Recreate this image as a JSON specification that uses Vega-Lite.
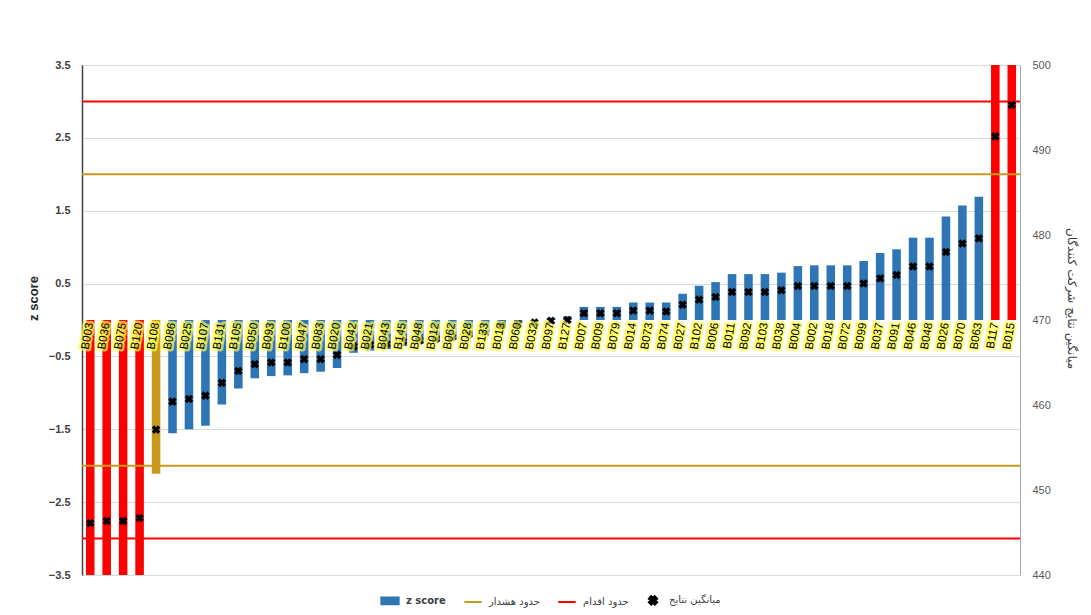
{
  "$schema": "https://vega.github.io/schema/vega-lite/v6.json",
  "width": 938,
  "height": 510,
  "autosize": {"type": "none"},
  "padding": {"left": 82, "top": 65, "right": 71, "bottom": 40},
  "background": "white",
  "config": {
    "view": {"stroke": "#A6A6A6", "strokeWidth": 1},
    "font": "Liberation Sans"
  },
  "data": {
    "values": [
      {"id": "B003", "z": -3.97, "mean": 446.1},
      {"id": "B036", "z": -3.93, "mean": 446.35},
      {"id": "B075", "z": -3.93, "mean": 446.35},
      {"id": "B120", "z": -3.87, "mean": 446.7},
      {"id": "B108", "z": -2.11, "mean": 457.1},
      {"id": "B086", "z": -1.555, "mean": 460.4},
      {"id": "B025", "z": -1.5, "mean": 460.7},
      {"id": "B107", "z": -1.45, "mean": 461.1},
      {"id": "B131", "z": -1.16, "mean": 462.6},
      {"id": "B105", "z": -0.94, "mean": 464.0},
      {"id": "B050", "z": -0.8, "mean": 464.8},
      {"id": "B093", "z": -0.77, "mean": 465.0},
      {"id": "B100", "z": -0.76, "mean": 465.0},
      {"id": "B047", "z": -0.73, "mean": 465.4},
      {"id": "B083", "z": -0.71, "mean": 465.4},
      {"id": "B020", "z": -0.66, "mean": 465.9},
      {"id": "B042", "z": -0.45, "mean": 466.9},
      {"id": "B021", "z": -0.42, "mean": 467.1},
      {"id": "B043", "z": -0.4, "mean": 467.2},
      {"id": "B145", "z": -0.36, "mean": 467.5},
      {"id": "B048", "z": -0.33, "mean": 467.6},
      {"id": "B012", "z": -0.3, "mean": 467.8},
      {"id": "B062", "z": -0.27, "mean": 468.0},
      {"id": "B028", "z": -0.22, "mean": 468.3},
      {"id": "B133", "z": -0.18, "mean": 468.5},
      {"id": "B013", "z": -0.1, "mean": 469.3},
      {"id": "B060", "z": -0.05, "mean": 469.5},
      {"id": "B032", "z": 0.0, "mean": 469.7},
      {"id": "B097", "z": 0.03, "mean": 469.9},
      {"id": "B127", "z": 0.05, "mean": 470.0},
      {"id": "B007", "z": 0.18, "mean": 470.8},
      {"id": "B009", "z": 0.18, "mean": 470.8},
      {"id": "B079", "z": 0.18, "mean": 470.8},
      {"id": "B014", "z": 0.24, "mean": 471.1},
      {"id": "B073", "z": 0.24, "mean": 471.1},
      {"id": "B074", "z": 0.24, "mean": 471.0},
      {"id": "B027", "z": 0.36, "mean": 471.8},
      {"id": "B102", "z": 0.47, "mean": 472.4},
      {"id": "B006", "z": 0.52, "mean": 472.7},
      {"id": "B011", "z": 0.63, "mean": 473.3},
      {"id": "B092", "z": 0.63, "mean": 473.3},
      {"id": "B103", "z": 0.63, "mean": 473.3},
      {"id": "B038", "z": 0.65, "mean": 473.5},
      {"id": "B004", "z": 0.74, "mean": 474.0},
      {"id": "B002", "z": 0.75, "mean": 474.0},
      {"id": "B018", "z": 0.75, "mean": 474.0},
      {"id": "B072", "z": 0.75, "mean": 474.0},
      {"id": "B099", "z": 0.81, "mean": 474.3},
      {"id": "B037", "z": 0.92, "mean": 474.9},
      {"id": "B091", "z": 0.97, "mean": 475.3},
      {"id": "B046", "z": 1.13, "mean": 476.3},
      {"id": "B048 ", "z": 1.13, "mean": 476.3},
      {"id": "B026", "z": 1.42, "mean": 478.0},
      {"id": "B070", "z": 1.57, "mean": 479.0},
      {"id": "B063", "z": 1.69, "mean": 479.6},
      {"id": "B117", "z": 3.7, "mean": 491.6},
      {"id": "B015", "z": 4.33, "mean": 495.3}
    ]
  },
  "layer": [
    {
      "layer": [
        {
          "mark": {"type": "bar", "clip": true},
          "encoding": {
            "x": {"field": "id", "type": "nominal", "sort": null, "axis": null,
                  "scale": {"paddingInner": 0.48, "paddingOuter": 0.24}},
            "y": {"field": "z", "type": "quantitative", "title": "z score",
                  "scale": {"domain": [-3.5, 3.5], "nice": false, "zero": false},
                  "axis": {"values": [-3.5, -2.5, -1.5, -0.5, 0.5, 1.5, 2.5, 3.5], "format": ".1f",
                           "grid": true, "gridColor": "#D9D9D9", "ticks": false,
                           "domainColor": "#404040", "domainWidth": 1.5,
                           "labelFontWeight": "bold", "labelFontSize": 11, "labelColor": "#404040", "labelPadding": 12,
                           "titleFontSize": 13, "titleFontWeight": "bold", "titleColor": "#262626", "titlePadding": 8,
                           "titleY": 233}},
            "y2": {"datum": 0},
            "color": {
              "datum": "z score",
              "scale": {"domain": ["z score", "حدود هشدار", "حدود اقدام", "میانگین نتایج"],
                        "range": ["#2E75B6", "#C99A1A", "#FF0000", "#000000"]},
              "condition": [
                {"test": "abs(datum.z) >= 3", "value": "#FF0000"},
                {"test": "abs(datum.z) >= 2", "value": "#C99A1A"}
              ],
              "legend": {
                "orient": "none", "legendX": 298, "legendY": 525, "direction": "horizontal", "title": null,
                "symbolSize": 300, "columnPadding": 14, "labelFontSize": 10, "labelColor": "#404040",
                "labelFont": "DejaVu Sans", "labelOffset": 6,
                "encode": {
                  "symbols": {"update": {
                    "shape": {"signal": "datum.value === 'z score' ? 'M-1,-0.38H1V0.38H-1Z' : (datum.value === 'میانگین نتایج' ? 'cross' : 'stroke')"},
                    "angle": {"signal": "datum.value === 'میانگین نتایج' ? 45 : 0"},
                    "size": {"signal": "datum.value === 'میانگین نتایج' ? 70 : 300"},
                    "fill": {"signal": "datum.value === 'z score' ? '#2E75B6' : (datum.value === 'میانگین نتایج' ? '#000000' : 'transparent')"},
                    "stroke": {"signal": "datum.value === 'حدود هشدار' ? '#C99A1A' : (datum.value === 'حدود اقدام' ? '#FF0000' : 'transparent')"},
                    "strokeWidth": {"value": 2},
                    "opacity": {"value": 1}
                  }},
                  "labels": {"update": {
                    "fontWeight": {"signal": "datum.value === 'z score' ? 'bold' : 'normal'"}
                  }}
                }
              }
            }
          }
        },
        {
          "data": {"values": [
            {"limit": 3, "series": "حدود اقدام"},
            {"limit": -3, "series": "حدود اقدام"},
            {"limit": 2, "series": "حدود هشدار"},
            {"limit": -2, "series": "حدود هشدار"}
          ]},
          "mark": {"type": "rule", "strokeWidth": 2},
          "encoding": {
            "y": {"field": "limit", "type": "quantitative"},
            "color": {"field": "series", "type": "nominal", "title": null}
          }
        }
      ]
    },
    {
      "mark": {"type": "point", "shape": "cross", "angle": 45, "filled": true, "size": 75, "opacity": 1},
      "encoding": {
        "x": {"field": "id", "type": "nominal", "sort": null},
        "y": {"field": "mean", "type": "quantitative", "title": "میانگین نتایج شرکت کنندگان",
              "scale": {"domain": [440, 500], "nice": false, "zero": false},
              "axis": {"orient": "right", "values": [440, 450, 460, 470, 480, 490, 500], "grid": false,
                       "ticks": false, "domain": false, "labelFontSize": 11, "labelColor": "#595959",
                       "labelPadding": 12, "titleFont": "DejaVu Sans", "titleFontSize": 12,
                       "titleFontWeight": "normal", "titleColor": "#404040", "titlePadding": 14,
                       "titleY": 233}},
        "color": {"datum": "میانگین نتایج"}
      }
    },
    {
      "encoding": {
        "x": {"field": "id", "type": "nominal", "sort": null},
        "y": {"datum": 0, "type": "quantitative", "scale": {"domain": [-3.5, 3.5], "nice": false, "zero": false}, "axis": null},
        "text": {"field": "id"}
      },
      "layer": [
        {
          "mark": {"type": "text", "angle": 280, "align": "right", "baseline": "middle", "yOffset": 3,
                   "fontSize": 11.5, "stroke": "#FFFF4D", "strokeWidth": 5, "strokeOpacity": 0.7,
                   "strokeJoin": "round", "fill": "#FFFF4D", "fillOpacity": 0.7}
        },
        {
          "mark": {"type": "text", "angle": 280, "align": "right", "baseline": "middle", "yOffset": 3,
                   "fontSize": 11.5, "fill": "#000000"}
        }
      ]
    }
  ],
  "resolve": {"scale": {"y": "independent"}}
}
